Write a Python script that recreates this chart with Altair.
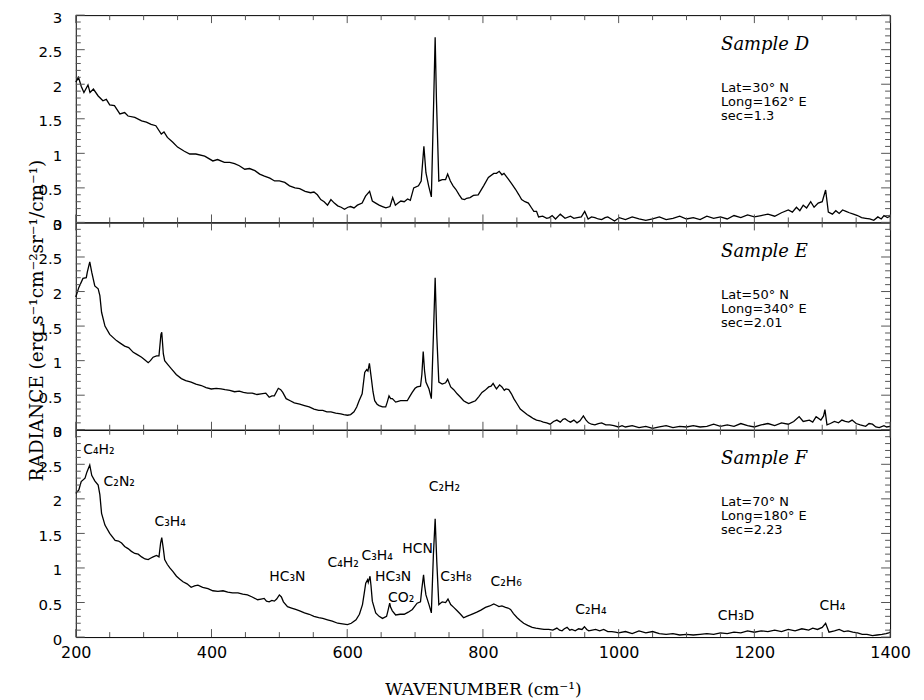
import altair as alt
import pandas as pd

# ---------------- data (wavenumber cm^-1, radiance) ----------------
D_SPECTRUM = [
    (200, 2.03), (204, 2.10), (208, 1.97), (212, 1.88), (218, 1.99), (221, 1.88), (226, 1.93),
    (233, 1.83), (240, 1.76), (245, 1.78), (250, 1.70), (257, 1.69), (265, 1.57), (272, 1.59),
    (277, 1.54), (287, 1.52), (297, 1.47), (304, 1.45), (311, 1.42), (318, 1.40), (326, 1.28),
    (330, 1.31), (335, 1.23), (343, 1.16), (350, 1.09), (360, 1.03), (368, 0.99), (377, 0.99),
    (390, 0.96), (402, 0.89), (409, 0.91), (419, 0.87), (427, 0.87), (434, 0.85), (441, 0.82),
    (449, 0.77), (456, 0.78), (464, 0.75), (471, 0.70), (478, 0.67), (486, 0.64), (493, 0.60),
    (500, 0.60), (508, 0.58), (515, 0.53), (523, 0.50), (530, 0.49), (538, 0.45), (546, 0.43),
    (551, 0.44), (556, 0.40), (561, 0.33), (566, 0.30), (571, 0.25), (576, 0.33), (581, 0.28),
    (586, 0.24), (591, 0.22), (596, 0.19), (601, 0.22), (605, 0.23), (610, 0.21), (615, 0.25),
    (622, 0.28), (627, 0.38), (633, 0.45), (637, 0.31), (642, 0.28), (647, 0.25), (652, 0.23),
    (657, 0.21), (663, 0.23), (667, 0.36), (671, 0.25), (675, 0.28), (679, 0.31), (684, 0.30),
    (689, 0.34), (693, 0.32), (698, 0.50), (705, 0.53), (709, 0.60), (713, 1.10), (716, 0.72),
    (720, 0.53), (724, 0.37), (727.5, 1.78), (729.6, 2.68), (731.5, 1.78), (735, 0.60), (740, 0.62),
    (745, 0.62), (748, 0.70), (752, 0.60), (756, 0.53), (760, 0.48), (765, 0.40), (769, 0.34),
    (773, 0.33), (776, 0.35), (781, 0.36), (786, 0.39), (793, 0.40), (801, 0.53), (808, 0.65),
    (816, 0.71), (820, 0.71), (824, 0.74), (828, 0.69), (831, 0.71), (838, 0.62), (843, 0.55),
    (848, 0.48), (853, 0.40), (857, 0.33), (862, 0.30), (867, 0.28), (871, 0.22), (875, 0.16),
    (879, 0.16), (882, 0.08), (888, 0.09), (894, 0.06), (898, 0.07), (902, 0.10), (907, 0.05),
    (914, 0.12), (921, 0.06), (929, 0.09), (934, 0.06), (939, 0.07), (945, 0.08), (950, 0.16),
    (955, 0.05), (960, 0.08), (965, 0.07), (970, 0.05), (975, 0.04), (980, 0.07), (984, 0.08),
    (989, 0.05), (994, 0.02), (1001, 0.07), (1010, 0.04), (1020, 0.08), (1030, 0.05), (1040, 0.03),
    (1050, 0.05), (1060, 0.08), (1070, 0.04), (1080, 0.06), (1090, 0.09), (1100, 0.05), (1110, 0.07),
    (1120, 0.04), (1130, 0.09), (1140, 0.06), (1150, 0.08), (1160, 0.05), (1170, 0.10), (1180, 0.07),
    (1190, 0.11), (1200, 0.08), (1210, 0.10), (1220, 0.12), (1230, 0.09), (1240, 0.14), (1250, 0.18),
    (1256, 0.15), (1262, 0.22), (1267, 0.17), (1272, 0.25), (1277, 0.21), (1283, 0.30), (1288, 0.22),
    (1294, 0.28), (1300, 0.30), (1305, 0.47), (1309, 0.15), (1315, 0.12), (1320, 0.17), (1325, 0.13),
    (1330, 0.18), (1335, 0.16), (1340, 0.14), (1346, 0.12), (1352, 0.10), (1358, 0.07), (1364, 0.06),
    (1370, 0.05), (1376, 0.03), (1382, 0.08), (1387, 0.05), (1391, 0.10), (1396, 0.07), (1400, 0.09),
]

E_SPECTRUM = [
    (200, 1.92), (204.5, 2.06), (210.6, 2.19), (215.5, 2.20), (217, 2.28), (220.6, 2.43), (223.5, 2.28),
    (228, 2.08), (233, 2.04), (235.5, 1.94), (238, 1.70), (243, 1.50), (250, 1.38), (260, 1.29),
    (266, 1.25), (272, 1.21), (278, 1.19), (284.7, 1.12), (290, 1.09), (297, 1.05), (302, 1.01),
    (306.7, 0.97), (310, 1.00), (314, 1.05), (319, 1.07), (322.6, 1.07), (325.5, 1.38), (326.7, 1.41),
    (329, 1.10), (331, 1.00), (336, 0.94), (341, 0.88), (348, 0.80), (355.6, 0.74), (362, 0.71),
    (370, 0.69), (377, 0.66), (385, 0.64), (392, 0.61), (399.7, 0.59), (407, 0.60), (414, 0.59),
    (420, 0.58), (427, 0.57), (434, 0.55), (441, 0.56), (447, 0.54), (453, 0.53), (460, 0.53),
    (467, 0.51), (473, 0.52), (480, 0.53), (485, 0.47), (489, 0.49), (492.6, 0.49), (498.5, 0.60),
    (502, 0.58), (505, 0.54), (510, 0.45), (516, 0.42), (522, 0.39), (530, 0.37), (537, 0.35),
    (544, 0.33), (551, 0.30), (558, 0.28), (564, 0.28), (570, 0.26), (576, 0.26), (583, 0.24),
    (590.6, 0.23), (595, 0.22), (600.4, 0.21), (605, 0.22), (610, 0.26), (614, 0.33), (617.5, 0.42),
    (622, 0.52), (625.8, 0.83), (628.7, 0.87), (630.5, 0.85), (632.7, 0.96), (635.6, 0.74), (638, 0.55),
    (640.5, 0.42), (644, 0.37), (647, 0.35), (652, 0.33), (656.7, 0.33), (659, 0.40), (661.6, 0.49),
    (664, 0.45), (666.5, 0.45), (671.4, 0.40), (675, 0.41), (678.7, 0.42), (684, 0.42), (688.5, 0.42),
    (692, 0.48), (695.8, 0.54), (700, 0.60), (703, 0.62), (708, 0.63), (710, 0.80), (712, 1.13),
    (714, 0.85), (716, 0.69), (720.5, 0.59), (724, 0.45), (727, 1.36), (729.6, 2.20), (732, 1.36),
    (735, 0.69), (740, 0.66), (745, 0.68), (748, 0.73), (752.5, 0.62), (757, 0.58), (762, 0.52),
    (767, 0.47), (771.5, 0.42), (775, 0.40), (779, 0.38), (784, 0.40), (789, 0.42), (794, 0.48),
    (798.6, 0.54), (803, 0.57), (808.5, 0.62), (812, 0.63), (815, 0.67), (818, 0.62), (820, 0.59),
    (824.6, 0.65), (828, 0.62), (831.5, 0.57), (834, 0.59), (838, 0.58), (842, 0.52), (845.5, 0.45),
    (850, 0.38), (855, 0.30), (860, 0.26), (865, 0.22), (870, 0.19), (874.6, 0.16), (879, 0.14),
    (884, 0.13), (889, 0.11), (894, 0.10), (899, 0.08), (904, 0.12), (909, 0.14), (914, 0.11),
    (918, 0.15), (921, 0.16), (925, 0.13), (929, 0.11), (934, 0.14), (938.6, 0.10), (943, 0.13),
    (948, 0.20), (952, 0.14), (955.6, 0.10), (960, 0.08), (965, 0.07), (970, 0.09), (975, 0.10),
    (981, 0.07), (987, 0.07), (993, 0.06), (999.6, 0.04), (1005, 0.06), (1010, 0.04), (1020, 0.06),
    (1030, 0.03), (1040, 0.05), (1050, 0.02), (1060, 0.04), (1070, 0.06), (1080, 0.03), (1090, 0.05),
    (1100, 0.04), (1110, 0.06), (1120, 0.04), (1130, 0.05), (1140, 0.08), (1150, 0.05), (1160, 0.07),
    (1170, 0.05), (1180, 0.09), (1190, 0.06), (1200, 0.04), (1210, 0.07), (1220, 0.09), (1230, 0.06),
    (1240, 0.10), (1250, 0.08), (1258, 0.12), (1266, 0.19), (1272, 0.12), (1281, 0.14), (1286, 0.11),
    (1291, 0.19), (1298, 0.14), (1302, 0.20), (1304, 0.29), (1307, 0.07), (1312, 0.09), (1318, 0.12),
    (1324, 0.10), (1329, 0.14), (1334, 0.12), (1339, 0.11), (1344, 0.14), (1350, 0.09), (1356, 0.07),
    (1364, 0.05), (1369, 0.09), (1374, 0.08), (1379, 0.04), (1384, 0.03), (1391, 0.06), (1395, 0.04),
    (1400, 0.05),
]

F_SPECTRUM = [
    (200, 2.08), (204.5, 2.13), (208, 2.25), (213.6, 2.30), (216.5, 2.39), (220.6, 2.49), (223.5, 2.34),
    (228, 2.26), (233, 2.20), (235.5, 2.06), (238, 1.79), (243, 1.62), (250, 1.50), (258, 1.40),
    (263, 1.39), (267.5, 1.36), (272, 1.31), (277, 1.28), (282, 1.24), (287, 1.21), (292, 1.20),
    (297, 1.16), (302, 1.13), (306.7, 1.12), (310, 1.14), (314, 1.16), (319, 1.18), (322.6, 1.16),
    (325, 1.36), (326.7, 1.44), (329, 1.28), (331, 1.12), (335, 1.05), (338.6, 1.00), (343, 0.95),
    (348.4, 0.88), (353, 0.84), (358, 0.80), (364, 0.77), (370, 0.72), (375, 0.74), (380, 0.75),
    (387, 0.72), (394.8, 0.70), (402, 0.67), (409.5, 0.66), (417, 0.67), (424, 0.65), (431, 0.64),
    (439, 0.64), (446, 0.62), (453, 0.61), (460, 0.58), (468, 0.54), (473, 0.55), (477.6, 0.56),
    (481, 0.52), (485, 0.51), (489, 0.53), (492.6, 0.52), (496, 0.55), (500, 0.61), (503, 0.58),
    (506, 0.51), (512, 0.44), (518, 0.42), (524, 0.40), (530, 0.38), (537, 0.35), (544, 0.33),
    (551, 0.30), (558, 0.28), (564, 0.27), (571, 0.25), (578, 0.23), (586, 0.20), (593, 0.19),
    (600.4, 0.18), (606, 0.20), (613, 0.25), (618, 0.33), (622.5, 0.47), (625, 0.63), (627.3, 0.78),
    (630, 0.83), (631, 0.79), (633.6, 0.88), (635, 0.75), (637, 0.52), (642, 0.35), (647, 0.30),
    (652, 0.27), (658, 0.30), (660, 0.38), (662.6, 0.49), (664, 0.43), (666.5, 0.38), (671.4, 0.32),
    (678, 0.33), (684, 0.33), (690, 0.36), (696, 0.40), (703, 0.49), (708, 0.51), (710, 0.70),
    (712.5, 0.90), (714, 0.75), (716, 0.61), (720.5, 0.47), (724, 0.35), (727, 1.19), (729.6, 1.71),
    (732, 1.09), (735, 0.47), (740, 0.51), (745, 0.50), (748.5, 0.55), (752.5, 0.47), (757, 0.43),
    (762, 0.38), (767, 0.33), (771.5, 0.28), (776, 0.30), (781.5, 0.32), (786, 0.34), (791, 0.36),
    (797, 0.39), (803.7, 0.43), (810, 0.45), (816, 0.48), (820, 0.46), (823.6, 0.44), (828, 0.45),
    (833.3, 0.43), (837, 0.42), (840.7, 0.40), (845, 0.34), (850.5, 0.28), (855, 0.24), (860, 0.20),
    (866, 0.17), (872.6, 0.14), (878, 0.13), (884.8, 0.12), (890, 0.11), (897, 0.11), (903, 0.10),
    (909, 0.13), (913, 0.10), (916.6, 0.09), (920, 0.12), (924, 0.14), (928, 0.10), (931, 0.11),
    (936, 0.09), (941, 0.12), (946, 0.11), (949.6, 0.15), (953, 0.11), (956, 0.09), (961, 0.10),
    (966, 0.11), (972, 0.09), (978, 0.11), (984, 0.08), (990, 0.08), (995, 0.07), (1000, 0.06),
    (1010, 0.08), (1020, 0.05), (1030, 0.09), (1040, 0.06), (1050, 0.08), (1060, 0.05), (1070, 0.04),
    (1080, 0.05), (1090, 0.03), (1100, 0.04), (1110, 0.03), (1120, 0.04), (1130, 0.05), (1140, 0.04),
    (1150, 0.06), (1160, 0.05), (1170, 0.07), (1180, 0.06), (1190, 0.09), (1200, 0.07), (1210, 0.09),
    (1220, 0.08), (1230, 0.10), (1240, 0.08), (1250, 0.11), (1260, 0.09), (1270, 0.12), (1280, 0.10),
    (1286, 0.13), (1293, 0.11), (1300, 0.14), (1305, 0.20), (1310, 0.07), (1318, 0.09), (1325, 0.11),
    (1332, 0.08), (1338, 0.09), (1345, 0.07), (1352, 0.06), (1359, 0.04), (1366, 0.04), (1374, 0.02),
    (1381, 0.03), (1388, 0.04), (1394, 0.05), (1398, 0.06), (1400, 0.07),
]

SAMPLES = ["Sample D", "Sample E", "Sample F"]
INFO = [
    "Lat=30° N\nLong=162° E\nsec=1.3",
    "Lat=50° N\nLong=340° E\nsec=2.01",
    "Lat=70° N\nLong=180° E\nsec=2.23",
]

MOLECULES = ["C₄H₂", "C₂N₂", "C₃H₄", "HC₃N", "C₄H₂", "C₃H₄", "HC₃N", "CO₂",
             "HCN", "C₂H₂", "C₃H₈", "C₂H₆", "C₂H₄", "CH₃D", "CH₄"]
MOL_X = [211, 241, 316, 485, 571, 621, 641, 660, 681, 720, 737, 811, 936, 1146, 1296]
MOL_Y = [2.70, 2.25, 1.66, 0.87, 1.07, 1.17, 0.87, 0.57, 1.27, 2.17, 0.87, 0.79, 0.39, 0.31, 0.45]

X_MAJOR = list(range(200, 1401, 200))
X_MINOR = [v for v in range(200, 1401, 50) if v % 200]
Y_MAJOR = [0, 0.5, 1, 1.5, 2, 2.5, 3]
Y_MINOR = [round(i * 0.1, 1) for i in range(31) if i % 5]

# ---------------- layout / style ----------------
W, H = 817, 208
SANS = "DejaVu Sans"
SERIF = "DejaVu Serif"
TICK = "#555555"

xs = alt.Scale(domain=[200, 1400], nice=False, zero=False)
ys = alt.Scale(domain=[0, 3], nice=False, zero=False)


def panel(spec, idx, bottom=False, ytitle=False):
    if bottom:
        xaxis = alt.Axis(values=X_MAJOR, format="d", ticks=False, tickSize=0, domain=False, grid=False,
                         labelFlush=False, labelFont=SANS, labelFontSize=16, labelColor="black",
                         labelPadding=8, title="WAVENUMBER (cm⁻¹)", titleFont=SERIF,
                         titleFontSize=17, titleFontWeight="normal", titleColor="black",
                         titlePadding=21)
    else:
        xaxis = alt.Axis(values=X_MAJOR, ticks=False, domain=False, grid=False, labels=False, title=None)
    yargs = dict(values=Y_MAJOR, format="~g", ticks=False, tickSize=0, domain=False, grid=False,
                 labelFont=SANS, labelFontSize=15, labelColor="black", labelPadding=14,
                 labelOffset=2, labelOverlap=False)
    if ytitle:
        yaxis = alt.Axis(title="RADIANCE (erg s⁻¹cm⁻²sr⁻¹/cm⁻¹)", titleFont=SERIF, titleFontSize=18.5,
                         titleFontWeight="normal", titleColor="black", titleX=-39, titleY=H / 2 - 6,
                         titleAngle=270, titleAlign="center", titleBaseline="middle", **yargs)
    else:
        yaxis = alt.Axis(title=None, **yargs)

    X = alt.X("w:Q", scale=xs, axis=xaxis)
    Y = alt.Y("r:Q", scale=ys, axis=yaxis)

    layers = [
        alt.Chart(pd.DataFrame(spec, columns=["w", "r"])).mark_line(
            color="black", strokeWidth=1.3).encode(x=X, y=Y)
    ]
    for vals, ln in ((X_MAJOR, 8), (X_MINOR, 5)):
        base = alt.Chart(pd.DataFrame({"w": vals})).mark_rule(color=TICK, strokeWidth=1)
        layers.append(base.encode(x=X, y=alt.value(0), y2=alt.value(ln)))
        layers.append(base.encode(x=X, y=alt.value(H), y2=alt.value(H - ln)))
    for vals, ln in ((Y_MAJOR, 9), (Y_MINOR, 5)):
        base = alt.Chart(pd.DataFrame({"r": vals})).mark_rule(color=TICK, strokeWidth=1)
        layers.append(base.encode(y=Y, x=alt.value(0), x2=alt.value(ln)))
        layers.append(base.encode(y=Y, x=alt.value(W), x2=alt.value(W - ln)))

    layers.append(alt.Chart(pd.DataFrame({"t": [SAMPLES[idx]], "w": [1151], "r": [2.57]})).mark_text(
        align="left", baseline="middle", font=SERIF, fontStyle="italic", fontSize=18, color="black"
    ).encode(x=X, y=Y, text="t:N"))
    layers.append(alt.Chart(pd.DataFrame({"t": [INFO[idx]], "w": [1151], "r": [1.95]})).mark_text(
        align="left", baseline="middle", font=SANS, fontSize=13, lineHeight=14, lineBreak="\n",
        color="black"
    ).encode(x=X, y=Y, text="t:N"))
    if bottom:
        layers.append(alt.Chart(pd.DataFrame({"t": MOLECULES, "w": MOL_X, "r": MOL_Y})).mark_text(
            align="left", baseline="middle", font=SANS, fontSize=14, color="black"
        ).encode(x=X, y=Y, text="t:N"))
    return alt.layer(*layers).properties(width=W, height=H)


chart = alt.vconcat(
    panel(D_SPECTRUM, 0),
    panel(E_SPECTRUM, 1, ytitle=True),
    panel(F_SPECTRUM, 2, bottom=True),
    spacing=0,
    bounds="flush",
).configure_view(stroke="black", strokeWidth=1).properties(
    padding={"left": 19, "top": 0, "right": 5, "bottom": 0},
    background="white",
)

chart.save("out.html", embed_options={"renderer": "svg", "actions": False})
